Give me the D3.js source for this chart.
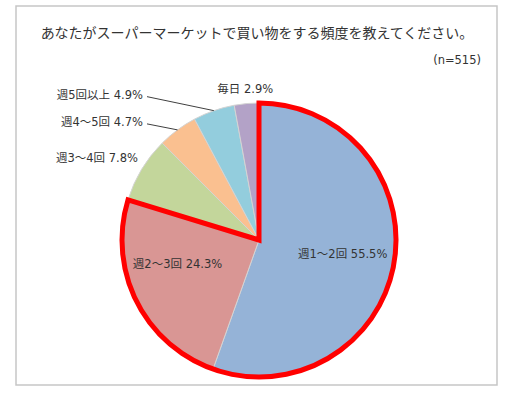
<!DOCTYPE html>
<html>
<head>
<meta charset="utf-8">
<script src="https://cdnjs.cloudflare.com/ajax/libs/d3/7.8.5/d3.min.js"></script>
<style>
  body { margin: 0; background: #fff; }
  text { font-family: "DejaVu Sans", "Noto Sans CJK JP", sans-serif; fill: #333; }
  text.title { font-family: "Noto Sans CJK JP", sans-serif; }
</style>
</head>
<body>
<svg class="chart"></svg>
<script>
var title = "あなたがスーパーマーケットで買い物をする頻度を教えてください。",
  note = "(n=515)";

// clockwise from 12 o'clock
var categories = ["週1～2回", "週2～3回", "週3～4回", "週4～5回", "週5回以上", "毎日"];
var values = [55.5, 24.3, 7.8, 4.7, 4.9, 2.9];
var colors = ["#95b3d7", "#d99694", "#c3d69b", "#fac090", "#93cddd", "#b3a2c7"];
// slices wrapped by the red outline
var highlighted = ["週1～2回", "週2～3回"];

var width = 510, height = 394,
  cx = 259, cy = 240, radius = 137;

var svg = d3.select(".chart")
  .attr("width", width)
  .attr("height", height);

svg.append("rect")
  .attr("x", 16)
  .attr("y", 6)
  .attr("width", 481)
  .attr("height", 379)
  .attr("fill", "#fff")
  .attr("stroke", "#c6c6c6")
  .attr("stroke-width", 1.5);

svg.append("text")
  .attr("class", "title")
  .attr("x", 257)
  .attr("y", 38)
  .attr("text-anchor", "middle")
  .style("font-size", "14px")
  .text(title);

svg.append("text")
  .attr("x", 481)
  .attr("y", 64)
  .attr("text-anchor", "end")
  .style("font-size", "11.5px")
  .text(note);

var data = categories.map(function(c, i) {
  return {name: c, value: values[i], color: colors[i]};
});

var pie = d3.pie()
  .sort(null)
  .value(function(d) { return d.value; });

var arcs = pie(data);

var arc = d3.arc().innerRadius(0).outerRadius(radius);

var chart = svg.append("g")
  .attr("transform", "translate(" + cx + "," + cy + ")");

chart.selectAll("path.slice")
  .data(arcs)
  .enter().append("path")
  .attr("class", "slice")
  .attr("d", arc)
  .attr("fill", function(d) { return d.data.color; })
  .attr("stroke", "#d4d4d4")
  .attr("stroke-width", 1);

// red outline around the highlighted slices
var hl = arcs.filter(function(d) { return highlighted.indexOf(d.data.name) >= 0; });
chart.append("path")
  .attr("d", arc({
    startAngle: d3.min(hl, function(d) { return d.startAngle; }),
    endAngle: d3.max(hl, function(d) { return d.endAngle; })
  }))
  .attr("fill", "none")
  .attr("stroke", "#ff0000")
  .attr("stroke-width", 5)
  .attr("stroke-linejoin", "miter");

function label(d) {
  return d.data.name + " " + d3.format(".1f")(d.data.value) + "%";
}

function pointAt(angle, r) {
  return [Math.sin(angle) * r, -Math.cos(angle) * r];
}

// big slices: label inside, small slices: outside
var inner = arcs.filter(function(d) { return d.data.value > 20; });
var outer = arcs.filter(function(d) { return d.data.value <= 20; });

chart.selectAll("text.inner")
  .data(inner)
  .enter().append("text")
  .attr("class", "inner")
  .attr("transform", function(d) {
    // pulled a bit toward the horizontal for the lower-left slice, like excel's best fit
    var mid = (d.startAngle + d.endAngle) / 2,
      a = mid > Math.PI ? mid + 0.18 : mid,
      c = pointAt(a, radius * 0.62);
    return "translate(" + c[0] + "," + c[1] + ")";
  })
  .attr("text-anchor", "middle")
  .attr("dy", "0.35em")
  .style("font-size", "11.5px")
  .text(label);

// outside labels: the last one above the pie, the rest stacked on the left
var colEnd = 143 - cx;
var outerLayout = outer.map(function(d, i) {
  var mid = (d.startAngle + d.endAngle) / 2,
    edge = pointAt(mid, radius),
    p = pointAt(mid, radius + 14);
  if (i == outer.length - 1) {
    return {d: d, x: p[0], y: p[1] - 1, anchor: "middle", line: false};
  }
  if (i == 0) {
    return {d: d, x: colEnd - 5, y: p[1] - 4, anchor: "end", line: false};
  }
  return {d: d, x: colEnd, y: edge[1] - 8 * i, anchor: "end", line: true, edge: edge};
});

chart.selectAll("line.leader")
  .data(outerLayout.filter(function(o) { return o.line; }))
  .enter().append("line")
  .attr("class", "leader")
  .attr("x1", function(o) { return o.x + 4; })
  .attr("y1", function(o) { return o.y + 2; })
  .attr("x2", function(o) { return o.edge[0]; })
  .attr("y2", function(o) { return o.edge[1]; })
  .attr("stroke", "#404040")
  .attr("stroke-width", 1);

chart.selectAll("text.outer")
  .data(outerLayout)
  .enter().append("text")
  .attr("class", "outer")
  .attr("x", function(o) { return o.x; })
  .attr("y", function(o) { return o.y; })
  .attr("dy", "0.35em")
  .attr("text-anchor", function(o) { return o.anchor; })
  .style("font-size", "11.5px")
  .text(function(o) { return label(o.d); });
</script>
</body>
</html>
